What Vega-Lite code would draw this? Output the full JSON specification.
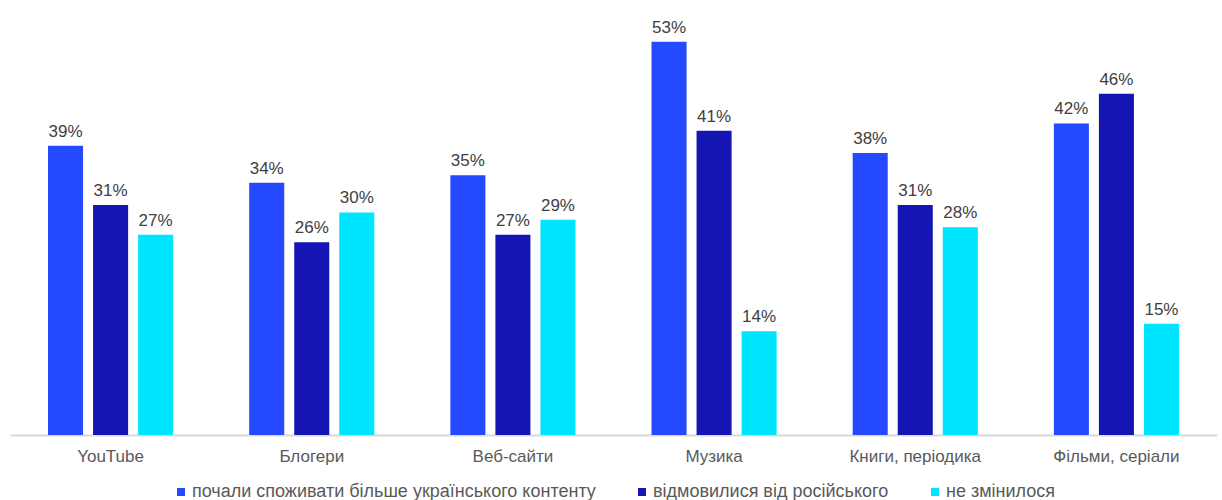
{
  "$schema": "https://vega.github.io/schema/vega-lite/v6.json",
  "autosize": "none",
  "width": 1207,
  "height": 408,
  "padding": {"left": 10, "top": 27, "right": 5, "bottom": 65},
  "background": "white",
  "config": {
    "view": {"stroke": null},
    "font": "Liberation Sans",
    "text": {"font": "Liberation Sans"},
    "legend": {"layout": {"bottom": {"anchor": "middle"}}}
  },
  "data": {
    "values": [
      {"category": "YouTube", "series": "почали споживати більше українського контенту", "value": 39},
      {"category": "YouTube", "series": "відмовилися від російського", "value": 31},
      {"category": "YouTube", "series": "не змінилося", "value": 27},
      {"category": "Блогери", "series": "почали споживати більше українського контенту", "value": 34},
      {"category": "Блогери", "series": "відмовилися від російського", "value": 26},
      {"category": "Блогери", "series": "не змінилося", "value": 30},
      {"category": "Веб-сайти", "series": "почали споживати більше українського контенту", "value": 35},
      {"category": "Веб-сайти", "series": "відмовилися від російського", "value": 27},
      {"category": "Веб-сайти", "series": "не змінилося", "value": 29},
      {"category": "Музика", "series": "почали споживати більше українського контенту", "value": 53},
      {"category": "Музика", "series": "відмовилися від російського", "value": 41},
      {"category": "Музика", "series": "не змінилося", "value": 14},
      {"category": "Книги, періодика", "series": "почали споживати більше українського контенту", "value": 38},
      {"category": "Книги, періодика", "series": "відмовилися від російського", "value": 31},
      {"category": "Книги, періодика", "series": "не змінилося", "value": 28},
      {"category": "Фільми, серіали", "series": "почали споживати більше українського контенту", "value": 42},
      {"category": "Фільми, серіали", "series": "відмовилися від російського", "value": 46},
      {"category": "Фільми, серіали", "series": "не змінилося", "value": 15}
    ]
  },
  "encoding": {
    "x": {
      "field": "category", "type": "nominal", "sort": null,
      "scale": {"paddingInner": 0.378, "paddingOuter": 0.189},
      "axis": {
        "title": null, "labelAngle": 0, "labelFontSize": 17, "labelColor": "#595959",
        "domainColor": "#d9d9d9", "domainWidth": 2, "ticks": false, "labelPadding": 13
      }
    },
    "xOffset": {
      "field": "series", "type": "nominal",
      "sort": ["почали споживати більше українського контенту", "відмовилися від російського", "не змінилося"],
      "scale": {"paddingInner": 0.222, "paddingOuter": 0}
    },
    "y": {
      "field": "value", "type": "quantitative",
      "scale": {"domain": [0, 55], "nice": false},
      "axis": null
    }
  },
  "layer": [
    {
      "mark": {"type": "bar"},
      "encoding": {
        "color": {
          "field": "series", "type": "nominal",
          "sort": ["почали споживати більше українського контенту", "відмовилися від російського", "не змінилося"],
          "scale": {
            "domain": ["почали споживати більше українського контенту", "відмовилися від російського", "не змінилося"],
            "range": ["#2449FF", "#1515B3", "#00E5FF"]
          },
          "legend": {
            "title": null, "orient": "bottom", "direction": "horizontal",
            "symbolType": "square", "symbolSize": 64, "symbolStrokeWidth": 0,
            "labelFontSize": 18, "labelColor": "#595959", "labelLimit": 600,
            "columnPadding": 37, "offset": 19, "symbolOffset": 0, "labelOffset": 2
          }
        }
      }
    },
    {
      "transform": [{"calculate": "datum.value + '%'", "as": "label"}],
      "mark": {"type": "text", "baseline": "alphabetic", "dy": -9, "fontSize": 17, "color": "#404040"},
      "encoding": {
        "text": {"field": "label", "type": "nominal"},
        "detail": {"field": "series"}
      }
    }
  ]
}
